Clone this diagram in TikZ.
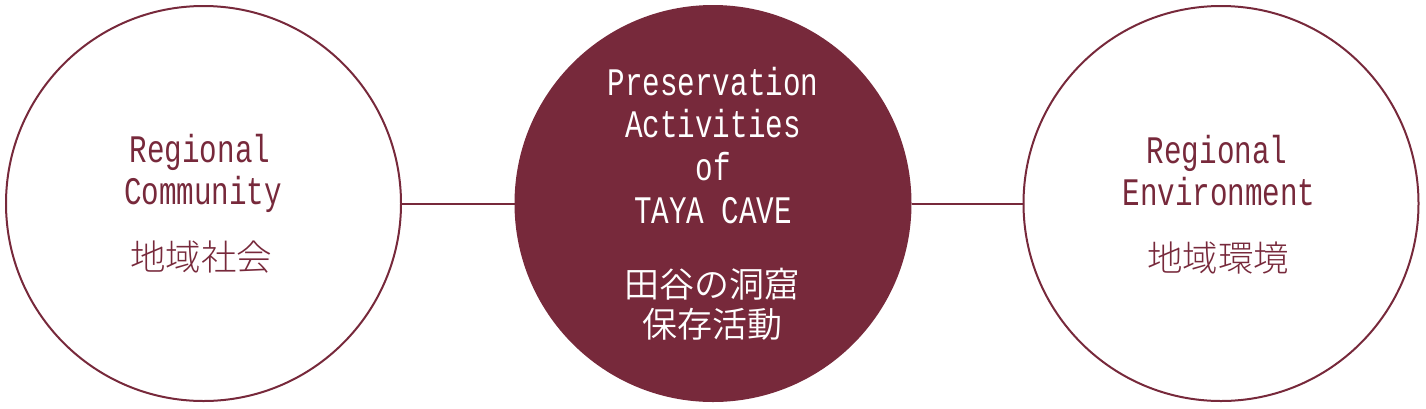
\documentclass[tikz,border=0pt]{standalone}
\usepackage{fontspec}
\newfontfamily\latmono[FakeStretch=0.75]{Liberation Mono}
\newfontfamily\cjk{Noto Sans CJK JP Light}
\newfontfamily\cjkreg{Noto Sans CJK JP DemiLight}
\definecolor{maroon}{RGB}{119,41,59}
\begin{document}
\begin{tikzpicture}[x=1pt,y=-1pt,
  ring/.style={circle,draw=maroon,line width=2pt,minimum size=395pt,inner sep=0pt},
  hub/.style={circle,fill=maroon,draw=maroon,line width=2pt,minimum size=395pt,inner sep=0pt},
  link/.style={draw=maroon,line width=2pt},
  lat/.style={anchor=base,inner sep=0pt,font=\latmono\fontsize{39}{40}\selectfont},
  jp/.style={anchor=base,inner sep=0pt,font=\cjk\fontsize{35.5}{40}\selectfont},
  jpw/.style={anchor=base,inner sep=0pt,font=\cjkreg\fontsize{35}{40}\selectfont}]
\useasboundingbox (0,0) rectangle (1426,408);
\node[ring] (L) at (203.5,203.5) {};
\node[hub] (M) at (713,203.5) {};
\node[ring] (R) at (1221,203.5) {};
\draw[link] (L.east) -- (M.west);
\draw[link] (M.east) -- (R.west);
% left texts
\node[lat,text=maroon] (l1) at (200,162.5) {Regional};
\node[lat,text=maroon] (l2) at (203,204.5) {Community};
\node[jp,text=maroon] (l3) at (201,270) {地域社会};
% center texts
\node[lat,text=white] (m1) at (713,95) {Preservation};
\node[lat,text=white] (m2) at (713,137) {Activities};
\node[lat,text=white] (m3) at (713,180) {of};
\node[lat,text=white] (m4) at (713,223) {TAYA CAVE};
\node[jpw,text=white] (m5) at (712,297) {田谷の洞窟};
\node[jpw,text=white] (m6) at (712,337) {保存活動};
% right texts
\node[lat,text=maroon] (r1) at (1217,163) {Regional};
\node[lat,text=maroon] (r2) at (1219,205) {Environment};
\node[jp,text=maroon] (r3) at (1218,271) {地域環境};
\end{tikzpicture}
\end{document}
